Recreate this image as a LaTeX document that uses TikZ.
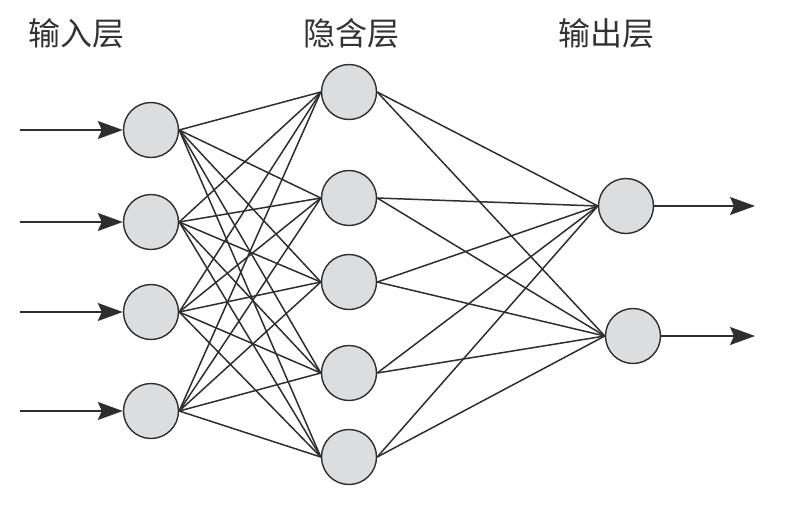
\documentclass[tikz,border=0pt]{standalone}
\usepackage{fontspec}
\newfontfamily\cjk{Noto Sans CJK SC}
\usetikzlibrary{arrows.meta,backgrounds}
\definecolor{edgecol}{HTML}{2E2E2E}
\definecolor{nodefill}{HTML}{DCDDDF}
\definecolor{txtcol}{HTML}{333333}
\begin{document}
\begin{tikzpicture}[x=1pt,y=-1pt,
  neuron/.style={circle,draw=edgecol,fill=nodefill,line width=1.4pt,minimum size=55pt,inner sep=0pt},
  link/.style={draw=edgecol,line width=1.5pt},
  inarrow/.style={draw=edgecol,line width=1.4pt,-{Stealth[length=25pt,width=18pt,inset=4pt]}},
  layerlabel/.style={font=\cjk\fontsize{32}{32}\selectfont,text=txtcol,inner sep=0pt}]
\useasboundingbox (0,0) rectangle (799,509);
% labels
\node[layerlabel] (lin) at (76,33) {输入层};
\node[layerlabel] (lhid) at (351,33) {隐含层};
\node[layerlabel] (lout) at (606,33) {输出层};
% input nodes
\node[neuron] (i1) at (151,130) {};
\node[neuron] (i2) at (151,222) {};
\node[neuron] (i3) at (151,312) {};
\node[neuron] (i4) at (151,411) {};
% hidden nodes
\node[neuron] (h1) at (349,92) {};
\node[neuron] (h2) at (349,198) {};
\node[neuron] (h3) at (349,282) {};
\node[neuron] (h4) at (349,373) {};
\node[neuron] (h5) at (349,457) {};
% output nodes
\node[neuron] (o1) at (626,206) {};
\node[neuron] (o2) at (633,336) {};
% input arrows
\coordinate (a1) at (20,130);
\coordinate (a2) at (20,222);
\coordinate (a3) at (20,312);
\coordinate (a4) at (20,411);
\foreach \k in {1,2,3,4} \draw[inarrow] (a\k) -- (i\k.west);
% output arrows
\coordinate (b1) at (755,206);
\coordinate (b2) at (755,336);
\draw[inarrow] (o1.east) -- (b1);
\draw[inarrow] (o2.east) -- (b2);
% connections
\begin{pgfonlayer}{background}
\foreach \i in {1,2,3,4}
  \foreach \h in {1,2,3,4,5}
    \draw[link] (i\i.east) -- (h\h.west);
\foreach \h in {1,2,3,4,5}
  \foreach \o in {1,2}
    \draw[link] (h\h.east) -- (o\o.west);
\end{pgfonlayer}
\end{tikzpicture}
\end{document}
